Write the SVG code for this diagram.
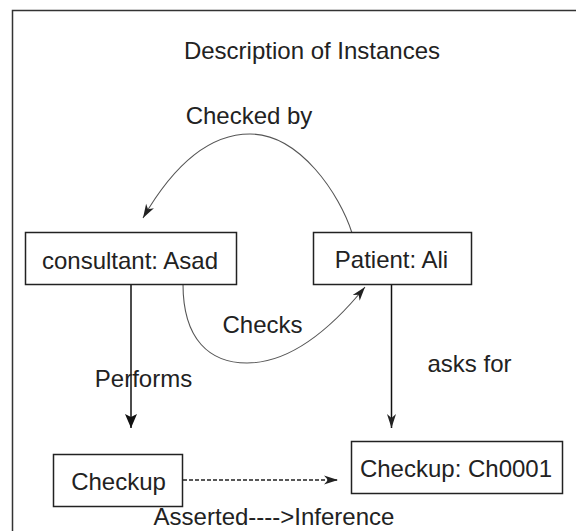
<svg xmlns="http://www.w3.org/2000/svg" width="576" height="531" viewBox="0 0 576 531">
  <style>
    .frame { fill: none; stroke: #333; stroke-width: 1.5; }
    .box { fill: #fff; stroke: #222; stroke-width: 1.5; }
    .lbl { font-family: "Liberation Sans", Arial, sans-serif; font-size: 24px; fill: #222; text-anchor: middle; }
    .curve { fill: none; stroke: #555; stroke-width: 1.1; }
    .line { fill: none; stroke: #111; stroke-width: 1.5; }
    .dash { fill: none; stroke: #222; stroke-width: 1.3; stroke-dasharray: 4 2; }
  </style>
  <defs>
    <marker id="notch" viewBox="-15 -6 16 12" refX="0" refY="0" markerWidth="16" markerHeight="12" markerUnits="userSpaceOnUse" orient="auto">
      <path d="M0,0 L-14,-4.5 L-10,0 L-14,4.5 Z" fill="#222"/>
    </marker>
    <marker id="solid" viewBox="-15 -7 16 14" refX="0" refY="0" markerWidth="16" markerHeight="14" markerUnits="userSpaceOnUse" orient="auto">
      <path d="M0,0 L-14,-6 L-11,0 L-14,6 Z" fill="#111"/>
    </marker>
  </defs>

  <rect class="frame" x="12.5" y="10.5" width="600" height="560"/>

  <text class="lbl" x="312" y="59">Description of Instances</text>

  <g id="connectors">
    <path id="checked-by" class="curve" d="M352,233 C340,195 300,134 250,134 C200,134 165,180 143,218" marker-end="url(#notch)"/>
    <path id="checks" class="curve" d="M183,284 C183,340 210,363 247,363 C290,363 330,330 365,287" marker-end="url(#notch)"/>
    <path id="performs" class="line" d="M131,284 V428" marker-end="url(#solid)"/>
    <path id="asks-for" class="line" d="M391.5,284 V428" marker-end="url(#notch)"/>
    <path id="inference" class="dash" d="M183,480 H338" marker-end="url(#notch)"/>
    <text class="lbl" x="249" y="124" font-size="22">Checked by</text>
    <text class="lbl" x="262.5" y="333">Checks</text>
    <text class="lbl" x="143.5" y="387">Performs</text>
    <text class="lbl" x="469.5" y="372">asks for</text>
    <text class="lbl" x="274" y="525" font-size="23.5">Asserted----&gt;Inference</text>
  </g>

  <g id="consultant">
    <rect class="box" x="25.5" y="232.5" width="211" height="52"/>
    <text class="lbl" x="130" y="269">consultant: Asad</text>
  </g>

  <g id="patient">
    <rect class="box" x="313.5" y="232.5" width="158" height="52"/>
    <text class="lbl" x="391.5" y="268">Patient: Ali</text>
  </g>

  <g id="checkup">
    <rect class="box" x="53.5" y="454.5" width="129" height="52"/>
    <text class="lbl" x="118.5" y="490">Checkup</text>
  </g>

  <g id="checkup-ch0001">
    <rect class="box" x="351.5" y="441.5" width="211" height="52"/>
    <text class="lbl" x="456" y="477">Checkup: Ch0001</text>
  </g>
</svg>
